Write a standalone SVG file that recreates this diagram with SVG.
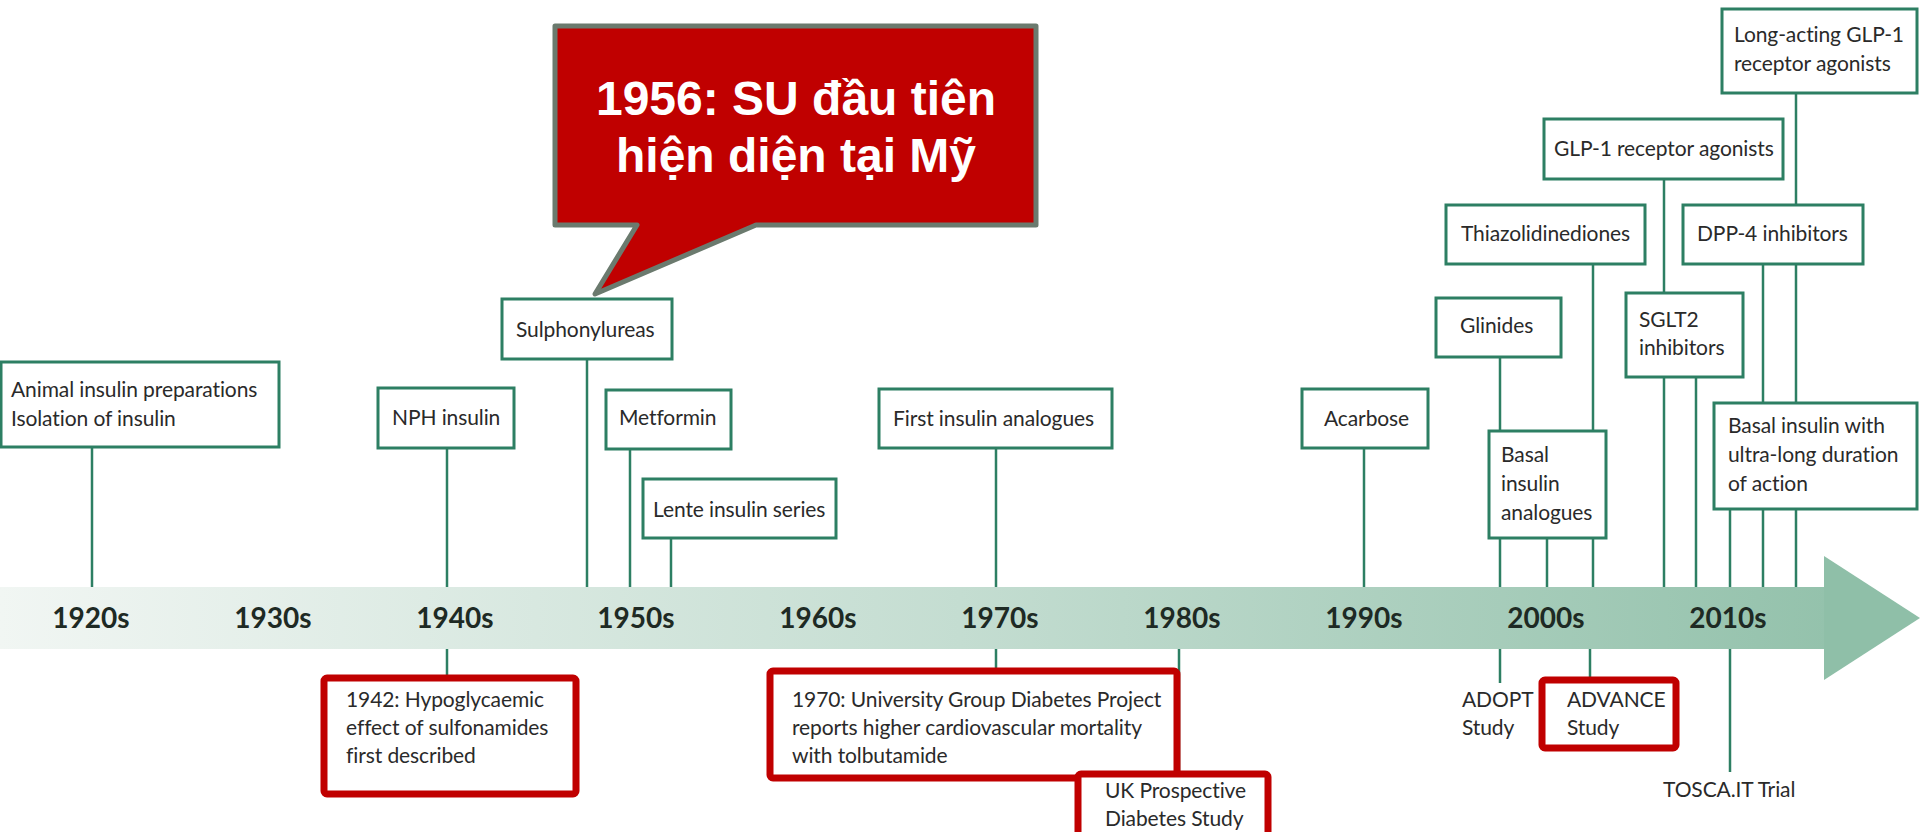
<svg xmlns="http://www.w3.org/2000/svg" width="1920" height="832" viewBox="0 0 1920 832">
<defs>
<linearGradient id="band" x1="0" y1="0" x2="1920" y2="0" gradientUnits="userSpaceOnUse">
<stop offset="0" stop-color="#f1f6f3"/>
<stop offset="0.5" stop-color="#c4ddd1"/>
<stop offset="1" stop-color="#8fbfa8"/>
</linearGradient>
<style>
.box{fill:#ffffff;stroke:#2d7f63;stroke-width:3}
.red{fill:#ffffff;stroke:#c00000;stroke-width:7}
.ln{stroke:#2d7f63;stroke-width:2.5;fill:none}
.t{font-family:Lato,"Open Sans","Liberation Sans",sans-serif;font-size:21px;fill:#2a2a2a;letter-spacing:-0.1px}
.yr{font-family:Lato,"Liberation Sans",sans-serif;font-size:28px;font-weight:bold;fill:#1e2a24;text-anchor:middle}
.call{font-family:"Liberation Sans",Arial,sans-serif;font-size:48px;font-weight:bold;fill:#ffffff;text-anchor:middle}
</style>
</defs>
<rect width="1920" height="832" fill="#ffffff"/>
<g id="timeline">
<rect x="0" y="587" width="1826" height="62" fill="url(#band)"/>
<polygon points="1824,556 1920,618 1824,680" fill="#8fbfa8"/>
<text class="yr" x="91" y="628">1920s</text>
<text class="yr" x="273" y="628">1930s</text>
<text class="yr" x="455" y="628">1940s</text>
<text class="yr" x="636" y="628">1950s</text>
<text class="yr" x="818" y="628">1960s</text>
<text class="yr" x="1000" y="628">1970s</text>
<text class="yr" x="1182" y="628">1980s</text>
<text class="yr" x="1364" y="628">1990s</text>
<text class="yr" x="1546" y="628">2000s</text>
<text class="yr" x="1728" y="628">2010s</text>
</g>
<g id="connectors">
<line class="ln" x1="92" y1="447" x2="92" y2="587"/>
<line class="ln" x1="447" y1="448" x2="447" y2="587"/>
<line class="ln" x1="447" y1="649" x2="447" y2="677"/>
<line class="ln" x1="587" y1="359" x2="587" y2="587"/>
<line class="ln" x1="630" y1="449" x2="630" y2="587"/>
<line class="ln" x1="671" y1="538" x2="671" y2="587"/>
<line class="ln" x1="996" y1="448" x2="996" y2="587"/>
<line class="ln" x1="996" y1="649" x2="996" y2="684"/>
<line class="ln" x1="1179" y1="649" x2="1179" y2="774"/>
<line class="ln" x1="1364" y1="448" x2="1364" y2="587"/>
<line class="ln" x1="1500" y1="357" x2="1500" y2="431"/>
<line class="ln" x1="1593" y1="264" x2="1593" y2="431"/>
<line class="ln" x1="1500" y1="538" x2="1500" y2="587"/>
<line class="ln" x1="1547" y1="538" x2="1547" y2="587"/>
<line class="ln" x1="1593" y1="538" x2="1593" y2="587"/>
<line class="ln" x1="1500" y1="649" x2="1500" y2="683"/>
<line class="ln" x1="1590" y1="649" x2="1590" y2="680"/>
<line class="ln" x1="1664" y1="179" x2="1664" y2="293"/>
<line class="ln" x1="1664" y1="377" x2="1664" y2="587"/>
<line class="ln" x1="1696" y1="377" x2="1696" y2="587"/>
<line class="ln" x1="1796" y1="93" x2="1796" y2="205"/>
<line class="ln" x1="1763" y1="264" x2="1763" y2="403"/>
<line class="ln" x1="1796" y1="264" x2="1796" y2="403"/>
<line class="ln" x1="1730" y1="509" x2="1730" y2="587"/>
<line class="ln" x1="1763" y1="509" x2="1763" y2="587"/>
<line class="ln" x1="1796" y1="509" x2="1796" y2="587"/>
<line class="ln" x1="1730" y1="649" x2="1730" y2="772"/>
</g>
<g id="animal">
<rect class="box" x="1" y="362" width="278" height="85"/>
<text class="t" x="11" y="397">Animal insulin preparations</text>
<text class="t" x="11" y="426">Isolation of insulin</text>
</g>
<g id="nph">
<rect class="box" x="378" y="388" width="136" height="60"/>
<text class="t" x="392" y="425">NPH insulin</text>
</g>
<g id="sulphonylureas">
<rect class="box" x="502" y="299" width="170" height="60"/>
<text class="t" x="516" y="337">Sulphonylureas</text>
</g>
<g id="metformin">
<rect class="box" x="606" y="390" width="125" height="59"/>
<text class="t" x="619" y="425">Metformin</text>
</g>
<g id="lente">
<rect class="box" x="643" y="479" width="193" height="59"/>
<text class="t" x="653" y="517">Lente insulin series</text>
</g>
<g id="first-analogues">
<rect class="box" x="879" y="389" width="233" height="59"/>
<text class="t" x="893" y="426">First insulin analogues</text>
</g>
<g id="acarbose">
<rect class="box" x="1302" y="389" width="126" height="59"/>
<text class="t" x="1324" y="426">Acarbose</text>
</g>
<g id="glinides">
<rect class="box" x="1436" y="298" width="125" height="59"/>
<text class="t" x="1460" y="333">Glinides</text>
</g>
<g id="thiazolidinediones">
<rect class="box" x="1446" y="205" width="199" height="59"/>
<text class="t" x="1461" y="241">Thiazolidinediones</text>
</g>
<g id="basal-analogues">
<rect class="box" x="1489" y="431" width="117" height="107"/>
<text class="t" x="1501" y="462">Basal</text>
<text class="t" x="1501" y="491">insulin</text>
<text class="t" x="1501" y="520">analogues</text>
</g>
<g id="glp1">
<rect class="box" x="1544" y="119" width="239" height="60"/>
<text class="t" x="1554" y="156">GLP-1 receptor agonists</text>
</g>
<g id="sglt2">
<rect class="box" x="1626" y="293" width="117" height="84"/>
<text class="t" x="1639" y="327">SGLT2</text>
<text class="t" x="1639" y="355">inhibitors</text>
</g>
<g id="long-glp1">
<rect class="box" x="1722" y="9" width="195" height="84"/>
<text class="t" x="1734" y="42">Long-acting GLP-1</text>
<text class="t" x="1734" y="71">receptor agonists</text>
</g>
<g id="dpp4">
<rect class="box" x="1683" y="205" width="180" height="59"/>
<text class="t" x="1697" y="241">DPP-4 inhibitors</text>
</g>
<g id="basal-ultra">
<rect class="box" x="1714" y="403" width="203" height="106"/>
<text class="t" x="1728" y="433">Basal insulin with</text>
<text class="t" x="1728" y="462">ultra-long duration</text>
<text class="t" x="1728" y="491">of action</text>
</g>
<g id="hypoglycaemic-1942">
<rect class="red" x="324" y="678" width="252" height="116" rx="3"/>
<text class="t" x="346" y="707">1942: Hypoglycaemic</text>
<text class="t" x="346" y="735">effect of sulfonamides</text>
<text class="t" x="346" y="763">first described</text>
</g>
<g id="ugdp-1970">
<rect class="red" x="770" y="671" width="407" height="107" rx="3"/>
<text class="t" x="792" y="707">1970: University Group Diabetes Project</text>
<text class="t" x="792" y="735">reports higher cardiovascular mortality</text>
<text class="t" x="792" y="763">with tolbutamide</text>
</g>
<g id="ukpds">
<rect class="red" x="1078" y="774" width="190" height="70" rx="3"/>
<text class="t" x="1105" y="798">UK Prospective</text>
<text class="t" x="1105" y="826">Diabetes Study</text>
</g>
<g id="adopt">
<text class="t" x="1462" y="707">ADOPT</text>
<text class="t" x="1462" y="735">Study</text>
</g>
<g id="advance">
<rect class="red" x="1542" y="680" width="134" height="68" rx="3"/>
<text class="t" x="1567" y="707">ADVANCE</text>
<text class="t" x="1567" y="735">Study</text>
</g>
<g id="tosca">
<text class="t" x="1663" y="797">TOSCA.IT Trial</text>
</g>
<g id="callout">
<path d="M555,26 H1036 V225 H756 L595,294 L637,225 H555 Z" fill="#c00000" stroke="#6b7a6e" stroke-width="5" stroke-linejoin="round"/>
<text class="call" x="796" y="115">1956: SU đầu tiên</text>
<text class="call" x="796" y="172">hiện diện tại Mỹ</text>
</g>
</svg>
